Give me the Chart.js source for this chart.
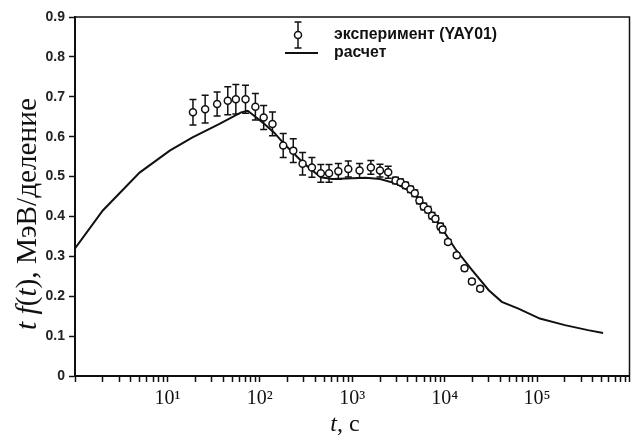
<!DOCTYPE html>
<html><head><meta charset="utf-8">
<script src="https://cdn.jsdelivr.net/npm/chart.js@4.4.1/dist/chart.umd.min.js"></script>
<style>html,body{margin:0;padding:0;background:#fff}canvas{display:block}</style>
</head><body>
<canvas id="c" width="635" height="438"></canvas>
<script>
// experimental points (YAY01)
const expT = [18.9, 25.6, 34.5, 45, 55, 70, 89.5, 110, 137, 179, 230, 290, 366, 457, 561, 707, 906, 1200, 1590, 1995, 2450, 2940, 3330, 3770, 4270, 4750, 5330, 5940, 6600, 7300, 7940, 9000, 9500, 10870, 13500, 16400, 19700, 24200];
const expY = [0.661, 0.669, 0.682, 0.69, 0.694, 0.694, 0.675, 0.648, 0.632, 0.578, 0.565, 0.532, 0.523, 0.508, 0.508, 0.513, 0.519, 0.515, 0.523, 0.515, 0.511, 0.49, 0.486, 0.478, 0.468, 0.458, 0.44, 0.425, 0.417, 0.402, 0.394, 0.375, 0.367, 0.336, 0.303, 0.27, 0.237, 0.219];
const expErr = [0.032, 0.035, 0.03, 0.035, 0.037, 0.035, 0.033, 0.03, 0.03, 0.03, 0.03, 0.028, 0.025, 0.022, 0.022, 0.02, 0.02, 0.018, 0.017, 0.016, 0.015, 0.008, 0.008, 0.008, 0.008, 0.008, 0.008, 0.008, 0.008, 0.008, 0.008, 0.008, 0.008, 0.006, 0.006, 0.006, 0.006, 0.006];
// calculation
const calcT = [1, 2, 5, 10.6, 18.7, 36.6, 62.7, 74, 87.4, 112, 143, 183, 235, 290, 370, 457, 610, 1400, 2000, 2940, 4450, 6240, 9380, 13000, 19900, 30000, 41500, 62800, 107000, 200000, 355000, 518000];
const calcY = [0.32, 0.415, 0.51, 0.565, 0.598, 0.632, 0.661, 0.665, 0.652, 0.632, 0.61, 0.582, 0.557, 0.536, 0.515, 0.498, 0.494, 0.497, 0.494, 0.483, 0.461, 0.427, 0.369, 0.319, 0.265, 0.215, 0.186, 0.169, 0.144, 0.1275, 0.115, 0.108];
// ticks / labels
const xMajorLabels = {10: '10\u00B9', 100: '10\u00B2', 1000: '10\u00B3', 10000: '10\u2074', 100000: '10\u2075'};
const xMin = 1, xMax = 1000000;
const yMin = 0, yMax = 0.9, yStep = 0.1;
const legendLabels = ['эксперимент (YAY01)', 'расчет'];
const yTitleParts = [['t', true], [' ', false], ['f', true], ['(', false], ['t', true], ['), МэВ/деление', false]];
const xTitleParts = [['t', true], [', c', false]];

const INK = '#111';
const SERIF = '"Liberation Serif", "Times New Roman", serif';

function measureParts(ctx, parts, size) {
  let total = 0;
  const widths = parts.map(([s, it]) => {
    ctx.font = (it ? 'italic ' : '') + size + 'px ' + SERIF;
    const w = ctx.measureText(s).width; total += w; return w;
  });
  return {total, widths};
}

const decorPlugin = {
  id: 'decor',
  beforeDatasetsDraw(chart) {
    const ctx = chart.ctx, xs = chart.scales.x, ys = chart.scales.y;
    ctx.save();
    ctx.strokeStyle = INK; ctx.lineWidth = 1.5;
    for (let i = 0; i < expT.length; i++) {
      const x = xs.getPixelForValue(expT[i]);
      const y1 = ys.getPixelForValue(expY[i] - expErr[i]);
      const y2 = ys.getPixelForValue(expY[i] + expErr[i]);
      ctx.beginPath();
      ctx.moveTo(x, y1); ctx.lineTo(x, y2);
      ctx.moveTo(x - 3.5, y1); ctx.lineTo(x + 3.5, y1);
      ctx.moveTo(x - 3.5, y2); ctx.lineTo(x + 3.5, y2);
      ctx.stroke();
    }
    ctx.restore();
  },
  afterDraw(chart) {
    const ctx = chart.ctx, a = chart.chartArea;
    ctx.save();
    // frame
    ctx.strokeStyle = INK; ctx.lineWidth = 1.5;
    ctx.strokeRect(a.left, a.top, a.right - a.left, a.bottom - a.top);
    // legend
    const lx = 298;
    ctx.lineWidth = 1.5;
    ctx.beginPath();
    ctx.moveTo(lx, 22); ctx.lineTo(lx, 48);
    ctx.moveTo(lx - 3.5, 22); ctx.lineTo(lx + 3.5, 22);
    ctx.moveTo(lx - 3.5, 48); ctx.lineTo(lx + 3.5, 48);
    ctx.stroke();
    ctx.beginPath(); ctx.arc(lx, 35, 3.5, 0, Math.PI * 2);
    ctx.fillStyle = '#fff'; ctx.fill(); ctx.stroke();
    ctx.lineWidth = 2;
    ctx.beginPath(); ctx.moveTo(285, 53); ctx.lineTo(318, 53); ctx.stroke();
    const LF = '"Liberation Sans Narrow", "Liberation Sans", Arial, sans-serif';
    ctx.font = 'bold 20px ' + LF;
    const w0 = ctx.measureText(legendLabels[0]).width;
    const fs = 20 * 163 / w0;
    ctx.font = 'bold ' + fs.toFixed(2) + 'px ' + LF;
    ctx.fillStyle = INK; ctx.textAlign = 'left'; ctx.textBaseline = 'alphabetic';
    ctx.fillText(legendLabels[0], 334, 39);
    ctx.fillText(legendLabels[1], 334, 57);
    // y title (rotated)
    let size = 28;
    let m = measureParts(ctx, yTitleParts, size);
    size = size * 232 / m.total;
    m = measureParts(ctx, yTitleParts, size);
    ctx.save();
    ctx.translate(36, 214);
    ctx.rotate(-Math.PI / 2);
    let px = -m.total / 2;
    yTitleParts.forEach(([s, it], i) => {
      ctx.font = (it ? 'italic ' : '') + size + 'px ' + SERIF;
      ctx.fillText(s, px, 0);
      px += m.widths[i];
    });
    ctx.restore();
    // x title
    const xs2 = 24;
    const mx = measureParts(ctx, xTitleParts, xs2);
    px = 345 - mx.total / 2;
    xTitleParts.forEach(([s, it], i) => {
      ctx.font = (it ? 'italic ' : '') + xs2 + 'px ' + SERIF;
      ctx.fillText(s, px, 431);
      px += mx.widths[i];
    });
    ctx.restore();
  }
};

new Chart(document.getElementById('c'), {
  data: {
    datasets: [
      {
        type: 'scatter', label: legendLabels[0], order: 0,
        data: expT.map((t, i) => ({x: t, y: expY[i]})),
        pointRadius: 3.5, pointBorderWidth: 1.5, pointBorderColor: INK, pointBackgroundColor: '#fff',
        showLine: false
      },
      {
        type: 'line', label: legendLabels[1], order: 1,
        data: calcT.map((t, i) => ({x: t, y: calcY[i]})),
        borderColor: INK, borderWidth: 2, pointRadius: 0, tension: 0, fill: false
      }
    ]
  },
  options: {
    responsive: false, animation: false, devicePixelRatio: 1,
    layout: {padding: {left: 0, top: 17, right: 3, bottom: 0}},
    plugins: {legend: {display: false}, tooltip: {enabled: false}},
    scales: {
      x: {
        type: 'logarithmic', min: xMin, max: xMax,
        afterBuildTicks(scale) {
          const t = [];
          for (let e = 0; e < 6; e++) for (let k = 1; k <= 9; k++) t.push({value: k * Math.pow(10, e)});
          t.push({value: xMax});
          scale.ticks = t;
        },
        afterFit(scale) { scale.height = 62; },
        ticks: {
          autoSkip: false, maxRotation: 0, padding: 5, color: INK,
          font: {family: SERIF, size: 20},
          callback(v) { return xMajorLabels[Math.round(v)] || ''; }
        },
        grid: {display: true, drawOnChartArea: false, drawTicks: true, tickLength: 6, tickColor: INK, tickWidth: 1.5},
        border: {display: true, color: INK, width: 2}
      },
      y: {
        type: 'linear', min: yMin, max: yMax,
        afterFit(scale) { scale.width = 75; },
        ticks: {
          stepSize: yStep, padding: 4, color: '#222',
          font: {family: '"Liberation Sans", Arial, sans-serif', size: 14, weight: 'bold'},
          callback(v) { return Math.abs(v) < 1e-9 ? '0' : v.toFixed(1); }
        },
        grid: {display: true, drawOnChartArea: false, drawTicks: true, tickLength: 6, tickColor: INK, tickWidth: 1.5},
        border: {display: true, color: INK, width: 2}
      }
    }
  },
  plugins: [decorPlugin]
});
</script>
</body></html>
